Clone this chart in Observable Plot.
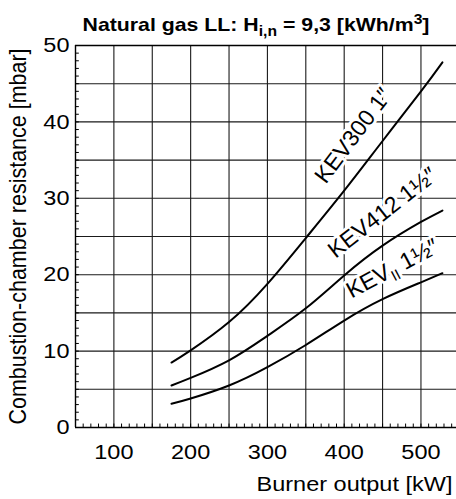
<!DOCTYPE html>
<html>
<head>
<meta charset="utf-8">
<script src="https://cdn.jsdelivr.net/npm/d3@7"></script>
<script src="https://cdn.jsdelivr.net/npm/@observablehq/plot@0.6"></script>
<style>
  html, body { margin: 0; padding: 0; background: white; }
  #wrap { position: relative; width: 456px; height: 499px; font-family: "Liberation Sans", Arial, Helvetica, sans-serif; }
  #title { position: absolute; top: 13px; left: 256px; transform: translateX(-50%) scaleX(1.12); white-space: nowrap;
           font-weight: bold; font-size: 19px; line-height: 24px; color: black; z-index: 2; }
  #title sub, #title sup { font-size: 14px; line-height: 0; }
  #chart svg { display: block; }
</style>
</head>
<body>
<div id="wrap">
  <div id="title">Natural gas LL: H<sub>i,n</sub> = 9,3 [kWh/m<sup>3</sup>]</div>
  <div id="chart"></div>
</div>
<script>
// Burner output [kW]
const burnerOutput = [175, 200, 250, 300, 350, 400, 450, 500, 528];
// Combustion-chamber resistance [mbar]
const kev300 = [8.5, 10.1, 13.8, 18.8, 24.8, 31.0, 37.5, 44.0, 47.8];
const kev412 = [5.5, 6.5, 8.8, 12.0, 15.6, 19.9, 23.8, 26.9, 28.4];
const kevII  = [3.1, 3.8, 5.5, 7.9, 10.8, 14.0, 16.8, 19.0, 20.2];

const seriesNames = ["KEV300 1\u2033", "KEV412 1\u00BD\u2033", "KEVII 1\u00BD\u2033"];
const seriesValues = [kev300, kev412, kevII];
// label anchor positions in data units and rotation
const labelX = [412, 450, 463];
const labelY = [38.2, 28.1, 20.8];
const labelAngle = [-53, -38, -28];

const xTicks = [100, 200, 300, 400, 500];
const yTicks = [0, 10, 20, 30, 40, 50];
const xGrid = d3.range(100, 551, 50);
const yGrid = d3.range(5, 50, 5);
const xMinor = d3.range(60, 546, 10);
const yMinor = d3.range(1, 50, 1);

const xLabel = "Burner output [kW]";
const yLabel = "Combustion-chamber resistance [mbar]";

const rows = seriesNames.flatMap((name, i) =>
  burnerOutput.map((kw, j) => ({series: name, kw, mbar: seriesValues[i][j]})));
const labels = seriesNames.map((name, i) => ({name, x: labelX[i], y: labelY[i], a: labelAngle[i]}));

const plot = Plot.plot({
  width: 456,
  height: 499,
  marginLeft: 75,
  marginRight: 0,
  marginTop: 45,
  marginBottom: 72,
  style: {fontFamily: "'Liberation Sans', Arial, Helvetica, sans-serif", fontSize: "21px", background: "white", color: "black"},
  x: {domain: [50, 546.3]},
  y: {domain: [0, 50]},
  marks: [
    Plot.gridX(xGrid, {stroke: "#1a1a1a", strokeOpacity: 1, strokeWidth: 1.1}),
    Plot.gridY(yGrid, {stroke: "#1a1a1a", strokeOpacity: 1, strokeWidth: 1.1}),
    Plot.ruleX(xMinor, {y1: 0, y2: 0.45, stroke: "black", strokeWidth: 1}),
    Plot.ruleY(yMinor, {x1: 50, x2: 55, stroke: "black", strokeWidth: 1}),
    Plot.ruleX([50], {stroke: "black", strokeWidth: 1.4}),
    Plot.ruleY([0, 50], {stroke: "black", strokeWidth: 1.4}),
    Plot.axisX(xTicks, {anchor: "bottom", tickSize: 0, tickPadding: 17, fontSize: 21, label: null}),
    Plot.axisY(yTicks, {anchor: "left", tickSize: 0, tickPadding: 6, fontSize: 21, label: null}),
    Plot.text([xLabel], {frameAnchor: "bottom-right", textAnchor: "end", lineAnchor: "bottom", dx: -4, dy: 63, fontSize: 21}),
    Plot.text([yLabel], {frameAnchor: "left", textAnchor: "middle", rotate: -90, dx: -57, lineAnchor: "middle", fontSize: 21.5}),
    Plot.text(labels, {x: "x", y: "y", text: "name", rotate: "a", fontSize: 23, fill: "black", stroke: "white", strokeWidth: 6, lineAnchor: "middle"}),
    Plot.line(rows, {x: "kw", y: "mbar", z: "series", curve: "natural", stroke: "black", strokeWidth: 2})
  ]
});

function stretch(el, sx, sy) {
  const tr = el.getAttribute("transform");
  if (tr) {
    el.setAttribute("transform", `${tr} scale(${sx},${sy})`);
  } else {
    const x = parseFloat(el.getAttribute("x")) || 0, y = parseFloat(el.getAttribute("y")) || 0;
    el.setAttribute("transform", `translate(${x},${y}) scale(${sx},${sy}) translate(${-x},${-y})`);
  }
}
const horiz = new Set([...xTicks, ...yTicks].map(String).concat([xLabel]));
d3.select(plot).selectAll("text").each(function() {
  const s = this.textContent;
  if (horiz.has(s)) stretch(this, 1.12, 1);
  else if (s === yLabel) stretch(this, 1, 1.12);
});

// subscript "II" in the KEV label
d3.select(plot).selectAll("text").filter(function() { return this.textContent === "KEVII 1\u00BD\u2033"; })
  .each(function() {
    const t = d3.select(this);
    t.text(null);
    t.append("tspan").text("KEV");
    t.append("tspan").attr("font-size", 15).attr("dy", 5).text("II");
    t.append("tspan").attr("dy", -5).text(" 1\u00BD\u2033");
  });

document.getElementById("chart").appendChild(plot);
</script>
</body>
</html>
